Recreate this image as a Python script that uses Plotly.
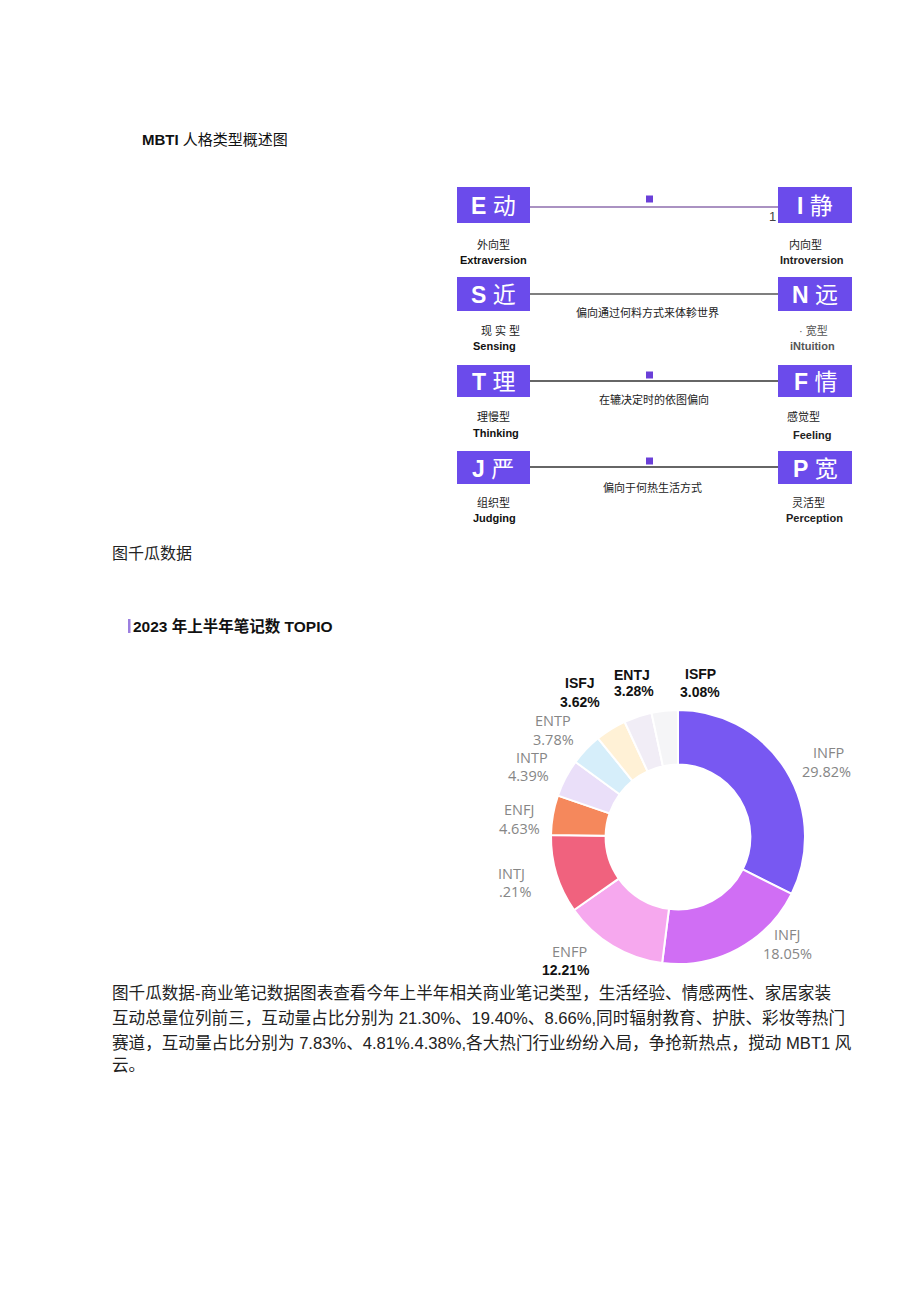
import plotly.graph_objects as go

W, H = 920, 1301

# ---------------- data ----------------
types = ["INFP", "INFJ", "ENFP", "INTJ", "ENFJ", "INTP", "ENTP", "ISFJ", "ENTJ", "ISFP"]
shares = [29.82, 18.05, 12.21, 9.21, 4.63, 4.39, 3.78, 3.62, 3.28, 3.08]
slice_colors = ["#7858F2", "#D06EF4", "#F6A8EE", "#F0627E", "#F5885C",
                "#EADFF9", "#D6EEFA", "#FFF1D6", "#F1EDF6", "#F5F5F7"]
# visible label texts (INTJ label is clipped at the left edge in the source)
label_names = ["INFP", "INFJ", "ENFP", "INTJ", "ENFJ", "INTP", "ENTP", "ISFJ", "ENTJ", "ISFP"]
label_pcts = ["29.82%", "18.05%", "12.21%", ".21%", "4.63%", "4.39%", "3.78%", "3.62%", "3.28%", "3.08%"]
name_dark = [False, False, False, False, False, False, False, True, True, True]
pct_dark = [False, False, True, False, False, False, False, True, True, True]

# MBTI dimension diagram
left_letters = ["E", "S", "T", "J"]
left_chars = ["动", "近", "理", "严"]
right_letters = ["I", "N", "F", "P"]
right_chars = ["静", "远", "情", "宽"]
left_cn = ["外向型", "现 实 型", "理慢型", "组织型"]
left_en = ["Extraversion", "Sensing", "Thinking", "Judging"]
right_cn = ["内向型", "· 宽型", "感觉型", "灵活型"]
right_en = ["Introversion", "iNtuition", "Feeling", "Perception"]
mid_text = ["", "偏向通过何料方式来体軫世界", "在辘决定时的依图偏向", "偏向于何热生活方式"]
has_marker = [True, False, True, True]

title1 = "<b>MBTI</b> 人格类型概述图"
source1 = "图千瓜数据"
title2 = "<b>2023 年上半年笔记数 TOPIO</b>"
para_lines = [
    "图千瓜数据-商业笔记数据图表查看今年上半年相关商业笔记类型，生活经验、情感两性、家居家装",
    "互动总量位列前三，互动量占比分别为 21.30%、19.40%、8.66%,同时辐射教育、护肤、彩妆等热门",
    "赛道，互动量占比分别为 7.83%、4.81%.4.38%,各大热门行业纷纷入局，争抢新热点，搅动 MBT1 风",
    "云。",
]

# ---------------- layout constants ----------------
CJK = "Liberation Sans, Noto Sans CJK SC"
PURPLE = "#6B4BEB"
row_box = [(187, 223), (277, 311), (365, 397), (451, 484)]
row_line_y = [207, 294, 381, 467]
row_line_color = ["#8E6EAE", "#555555", "#333333", "#333333"]
row_marker_y = [199, None, 375, 461]
row_cn_y = [244, 330, 416, 502]
row_en_y = [260, 346, 433, 518]
right_en_y = [260, 346, 435, 518]
mid_y = [None, 312, 399, 487]
left_cn_x = [493, 500, 493, 493]
left_en_x = [493, 494, 496, 494]
right_cn_x = [805, 813, 803, 808]
right_en_x = [812, 812, 812, 814]
mid_x = [None, 647, 654, 652]

label_name_pos = [(828, 752), (787, 934), (569, 951), (511, 873), (519, 809),
                  (532, 757), (553, 720), (580, 683), (632, 675), (700, 674)]
label_pct_pos = [(826, 771), (787, 953), (566, 970), (515, 891), (519, 828),
                 (528, 775), (553, 739), (580, 702), (634, 691), (700, 692)]

fig = go.Figure()

cx, cy, R = 678, 837, 127
fig.add_trace(go.Pie(
    labels=types, values=shares, sort=False, direction="clockwise", rotation=0,
    hole=0.57, textinfo="none", hoverinfo="label+percent",
    marker=dict(colors=slice_colors, line=dict(color="white", width=2)),
    domain=dict(x=[(cx - R) / W, (cx + R) / W], y=[1 - (cy + R) / H, 1 - (cy - R) / H]),
    showlegend=False,
))

shapes = []
ann = []

def text(x, y, s, size, color="#222", anchor="center", family=CJK, yanchor="middle"):
    ann.append(dict(x=x, y=y, xref="x", yref="y", text=s, showarrow=False,
                    xanchor=anchor, yanchor=yanchor,
                    font=dict(size=size, color=color, family=family)))

for i in range(4):
    y0, y1 = row_box[i]
    shapes.append(dict(type="rect", xref="x", yref="y", x0=457, x1=530, y0=y0, y1=y1,
                       fillcolor=PURPLE, line=dict(width=0), layer="below"))
    shapes.append(dict(type="rect", xref="x", yref="y", x0=778, x1=852, y0=y0, y1=y1,
                       fillcolor=PURPLE, line=dict(width=0), layer="below"))
    shapes.append(dict(type="line", xref="x", yref="y", x0=530, x1=778,
                       y0=row_line_y[i], y1=row_line_y[i],
                       line=dict(color=row_line_color[i], width=1.3)))
    if has_marker[i]:
        my = row_marker_y[i]
        shapes.append(dict(type="rect", xref="x", yref="y", x0=646, x1=653, y0=my - 3.5, y1=my + 3.5,
                           fillcolor="#6A3FD8", line=dict(width=0)))
    ym = (y0 + y1) / 2 + 1
    text(493, ym, f"<b>{left_letters[i]}</b> {left_chars[i]}", 23, "white")
    text(815, ym, f"<b>{right_letters[i]}</b> {right_chars[i]}", 23, "white")
    text(left_cn_x[i], row_cn_y[i], left_cn[i], 11, "#222")
    text(left_en_x[i], row_en_y[i], f"<b>{left_en[i]}</b>", 11, "#111")
    rc = "#555" if i == 1 else "#222"
    text(right_cn_x[i], row_cn_y[i], right_cn[i], 11, rc)
    text(right_en_x[i], right_en_y[i], f"<b>{right_en[i]}</b>", 11, rc)
    if mid_text[i]:
        text(mid_x[i], mid_y[i], mid_text[i], 11, "#222")

text(772, 216, "1", 13, "#444")

# headings
text(140, 139, title1, 15, "#111", anchor="left")
text(110, 553, source1, 16, "#222", anchor="left")
shapes.append(dict(type="rect", xref="x", yref="y", x0=128, x1=130.5, y0=619, y1=633,
                   fillcolor="#9C7FE0", line=dict(width=0)))
text(131, 626, title2, 15.5, "#111", anchor="left")

# donut labels
for i in range(len(types)):
    nx, ny = label_name_pos[i]
    px_, py_ = label_pct_pos[i]
    if name_dark[i]:
        text(nx, ny, f"<b>{label_names[i]}</b>", 14, "#111", family="Liberation Sans")
    else:
        text(nx, ny, label_names[i], 14.5, "#868686", family="Open Sans")
    if pct_dark[i]:
        text(px_, py_, f"<b>{label_pcts[i]}</b>", 14, "#111", family="Liberation Sans")
    else:
        text(px_, py_, label_pcts[i], 14.5, "#868686", family="Open Sans")

# paragraph
para_y = [993, 1018, 1043, 1065]
for s, y in zip(para_lines, para_y):
    text(110, y, s, 16.6, "#222", anchor="left")

fig.update_layout(
    width=W, height=H, margin=dict(l=0, r=0, t=0, b=0),
    paper_bgcolor="white", plot_bgcolor="rgba(0,0,0,0)",
    xaxis=dict(range=[0, W], visible=False, domain=[0, 1], fixedrange=True),
    yaxis=dict(range=[H, 0], visible=False, domain=[0, 1], fixedrange=True),
    shapes=shapes, annotations=ann, showlegend=False,
)

fig.write_html("out.html")
